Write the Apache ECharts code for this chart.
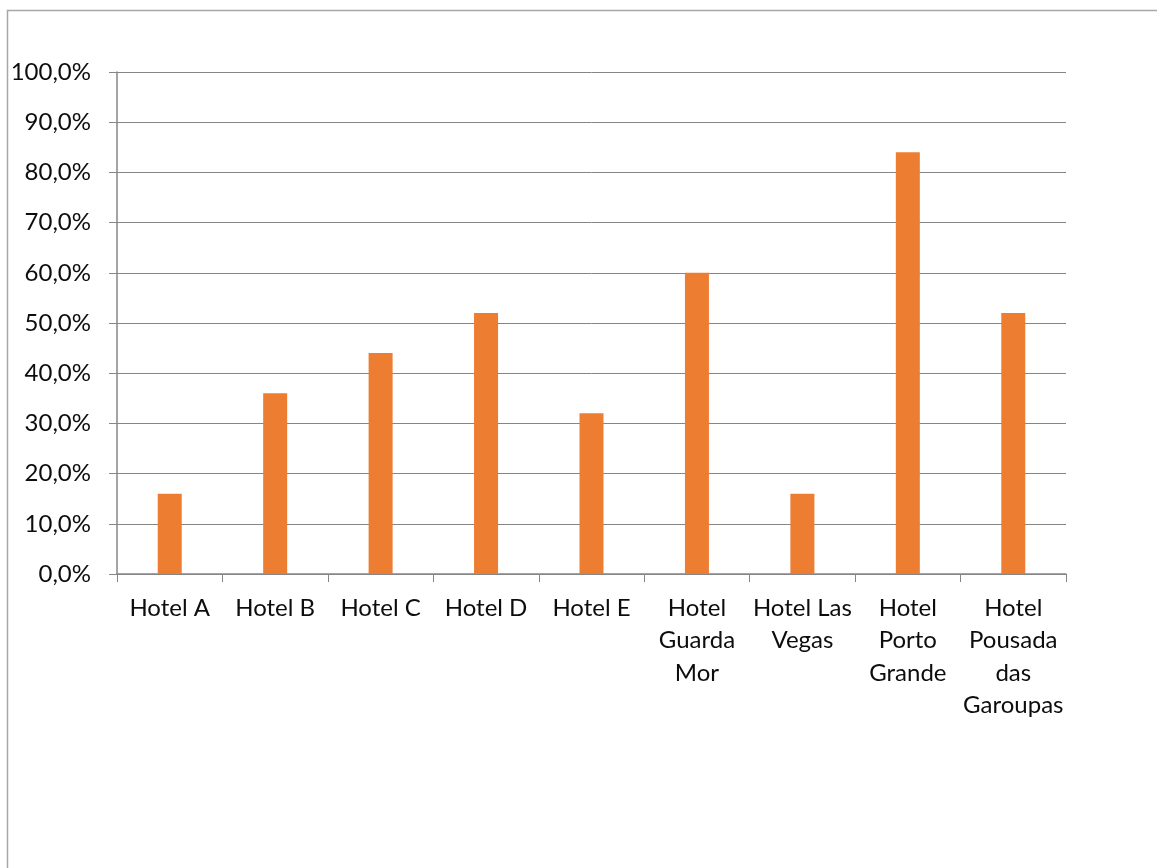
<!DOCTYPE html>
<html>
<head>
<meta charset="utf-8">
<script src="https://cdn.jsdelivr.net/npm/echarts@6/dist/echarts.min.js"></script>
<style>
  html, body { margin: 0; padding: 0; background: #fff; }
  #chart { width: 1157px; height: 868px; }
</style>
</head>
<body>
<div id="chart"></div>
<script>
// hotel names, wrapped the way the original axis shows them
const categories = [
  'Hotel A', 'Hotel B', 'Hotel C', 'Hotel D', 'Hotel E',
  'Hotel\nGuarda\nMor', 'Hotel Las\nVegas', 'Hotel\nPorto\nGrande',
  'Hotel\nPousada\ndas\nGaroupas'
]
const values = [16, 36, 44, 52, 32, 60, 16, 84, 52]

const chart = echarts.init(document.getElementById('chart'))
const font = 'Lato, "Open Sans", sans-serif'

chart.setOption({
  animation: false,
  textStyle: { fontFamily: font },
  graphic: [{
    type: 'rect',
    shape: { x: 7.5, y: 10.5, width: 1400, height: 1000 },
    style: { fill: 'none', stroke: '#a6a6a6', lineWidth: 1.5 },
    silent: true
  }],
  grid: { left: 117, right: 91, top: 72, bottom: 294 },
  xAxis: {
    type: 'category',
    data: categories,
    axisLine: { lineStyle: { color: '#868686', width: 1.5 } },
    axisTick: { show: true, length: 8, lineStyle: { color: '#868686' } },
    axisLabel: {
      interval: 0, margin: 18, color: '#0d0d0d',
      fontFamily: font, fontSize: 24, lineHeight: 32.5, align: 'center'
    }
  },
  yAxis: {
    type: 'value',
    min: 0, max: 100, interval: 10,
    axisLine: { show: true, lineStyle: { color: '#868686', width: 1.5 } },
    axisTick: { show: true, length: 8, lineStyle: { color: '#868686' } },
    splitLine: { lineStyle: { color: '#868686', width: 1 } },
    axisLabel: {
      margin: 26, color: '#0d0d0d', fontFamily: font, fontSize: 24,
      formatter: v => v.toFixed(1).replace('.', ',') + '%'
    }
  },
  series: [{
    type: 'bar',
    data: values,
    barWidth: 24,
    itemStyle: { color: '#ed7d31' }
  }]
})
</script>
</body>
</html>
